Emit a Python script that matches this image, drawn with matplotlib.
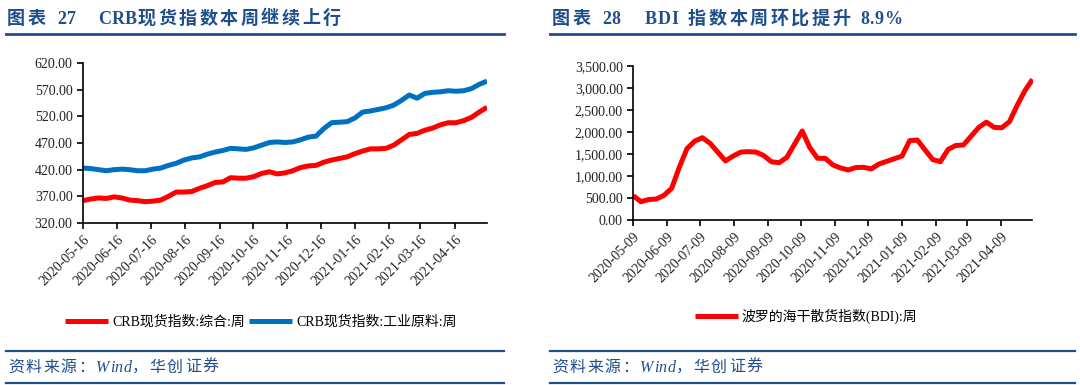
import matplotlib
matplotlib.use("Agg")
import matplotlib.pyplot as plt
from matplotlib.ticker import FuncFormatter
import pandas as pd

# ---------------- data ----------------
crb_start = "2020-05-16"
crb_composite = [362, 365, 367, 366, 369, 367, 363, 362, 360, 361, 363, 370, 378, 378, 379,
                 385, 390, 396, 397, 405, 404, 404, 407, 413, 416, 412, 414, 418, 424, 427,
                 428, 434, 438, 441, 444, 450, 455, 459, 459, 460, 466, 476, 486, 488, 494,
                 498, 504, 508, 508, 512, 518, 528, 537]
crb_industrial = [423, 422, 420, 418, 420, 421, 420, 418, 418, 421, 423, 428, 432, 438, 442,
                  444, 449, 453, 456, 460, 459, 458, 461, 466, 471, 472, 471, 472, 476, 481,
                  483, 497, 508, 509, 510, 517, 528, 530, 533, 536, 541, 550, 560, 554, 563,
                  565, 566, 568, 567, 568, 572, 580, 586]
crb_ticks = ["2020-05-16", "2020-06-16", "2020-07-16", "2020-08-16", "2020-09-16", "2020-10-16",
             "2020-11-16", "2020-12-16", "2021-01-16", "2021-02-16", "2021-03-16", "2021-04-16"]

bdi_start = "2020-05-09"
bdi_values = [551, 415, 465, 476, 560, 720, 1200, 1620, 1790, 1867, 1740, 1540, 1340, 1450,
              1540, 1550, 1540, 1460, 1320, 1300, 1420, 1720, 2018, 1640, 1400, 1399, 1250,
              1180, 1134, 1190, 1195, 1160, 1270, 1330, 1390, 1450, 1800, 1814, 1590, 1370,
              1323, 1600, 1690, 1701, 1900, 2100, 2220, 2100, 2093, 2230, 2600, 2930, 3191]
bdi_ticks = ["2020-05-09", "2020-06-09", "2020-07-09", "2020-08-09", "2020-09-09", "2020-10-09",
             "2020-11-09", "2020-12-09", "2021-01-09", "2021-02-09", "2021-03-09", "2021-04-09"]

title_left = [("图表", 7), ("27", 57), ("CRB现货指数本周继续上行", 98)]
title_right = [("图表", 552), ("28", 602), ("BDI", 645), ("指数本周环比提升", 688), ("8.9%", 860)]
legend_left = ["CRB现货指数:综合:周", "CRB现货指数:工业原料:周"]
legend_right = ["波罗的海干散货指数(BDI):周"]
source_text = "资料来源：Wind，华创证券"

# ---------------- style ----------------
W, H = 1080, 385
fig = plt.figure(figsize=(W / 100, H / 100), dpi=100)
renderer = fig.canvas.get_renderer()
SERIF = ["Liberation Serif", "Noto Sans CJK SC"]
NAVY = "#1F4E8C"
RED = "#FF0000"
BLUE = "#0070C0"


def fx(px):
    return px / W


def fy(py):
    return 1 - py / H


def style_axes(ax):
    for s in ["top", "right"]:
        ax.spines[s].set_visible(False)
    for s in ["left", "bottom"]:
        ax.spines[s].set_linewidth(1.2)
        ax.spines[s].set_color("black")
    ax.tick_params(axis="both", direction="out", length=4, width=1.2, colors="black",
                   labelsize=10)
    for lab in ax.get_yticklabels() + ax.get_xticklabels():
        lab.set_fontfamily(SERIF)
        lab.set_color("#222222")


def is_cjk(ch):
    return ord(ch) > 0x2E80


def tracked_text(x, y, s, cjk_adv, **kw):
    """Draw string char by char; CJK chars get a fixed advance (letter spacing)."""
    for ch in s:
        t = fig.text(fx(x), fy(y), ch, va="center", ha="left", **kw)
        if is_cjk(ch):
            x += cjk_adv
        else:
            x += t.get_window_extent(renderer).width + 0.5
    return x


# ---------------- left chart ----------------
crb_dates = pd.date_range(crb_start, periods=len(crb_composite), freq="7D")
axL = fig.add_axes([fx(83), fy(223), fx(487 - 83), (223 - 63) / H])
axL.plot(crb_dates, crb_composite, color=RED, lw=3.6, solid_capstyle="butt",
         label=legend_left[0])
axL.plot(crb_dates, crb_industrial, color=BLUE, lw=3.6, solid_capstyle="butt",
         label=legend_left[1])
axL.set_xlim(crb_dates[0], crb_dates[-1])
axL.set_ylim(320, 620)
axL.set_yticks(range(320, 621, 50))
axL.yaxis.set_major_formatter(FuncFormatter(lambda v, p: f"{v:.2f}"))
axL.set_xticks(pd.to_datetime(crb_ticks))
axL.set_xticklabels(crb_ticks, rotation=45, ha="right", rotation_mode="anchor")
style_axes(axL)

# ---------------- right chart ----------------
bdi_dates = pd.date_range(bdi_start, periods=len(bdi_values), freq="7D")
axR = fig.add_axes([fx(633.3), fy(220), fx(1032.5 - 633.3), (220 - 65.7) / H])
axR.plot(bdi_dates, bdi_values, color=RED, lw=3.6, solid_capstyle="butt",
         label=legend_right[0])
axR.set_xlim(bdi_dates[0], bdi_dates[-1])
axR.set_ylim(0, 3500)
axR.set_yticks(range(0, 3501, 500))
axR.yaxis.set_major_formatter(FuncFormatter(lambda v, p: f"{v:,.2f}"))
axR.set_xticks(pd.to_datetime(bdi_ticks))
axR.set_xticklabels(bdi_ticks, rotation=45, ha="right", rotation_mode="anchor")
style_axes(axR)

# ---------------- legends ----------------
leg_kw = dict(loc="center", frameon=False, prop={"family": SERIF, "size": 10},
              handlelength=3.1, handletextpad=0.3, columnspacing=0.3)
fig.legend(*axL.get_legend_handles_labels(), bbox_to_anchor=(fx(261), fy(322)), ncol=2,
           **leg_kw)
fig.legend(*axR.get_legend_handles_labels(), bbox_to_anchor=(fx(806), fy(316)), ncol=1,
           **leg_kw)

# ---------------- titles, rules, source ----------------
for x0, x1, title in [(6, 504, title_left), (550, 1075, title_right)]:
    for seg, sx in title:
        tracked_text(sx, 19, seg, 20.6, fontsize=13, fontweight="bold", color=NAVY,
                     family=SERIF)
    for yy, lw in [(34, 2.0), (351, 1.6), (383, 1.6)]:
        fig.add_artist(plt.Line2D([fx(x0), fx(x1)], [fy(yy), fy(yy)], color=NAVY, lw=lw))
    tracked_text(x0 + 2, 368, source_text, 17.6, fontsize=11.5, color=NAVY, family=SERIF,
                 style="italic")

fig.savefig("out.png", dpi=100, facecolor="white")
